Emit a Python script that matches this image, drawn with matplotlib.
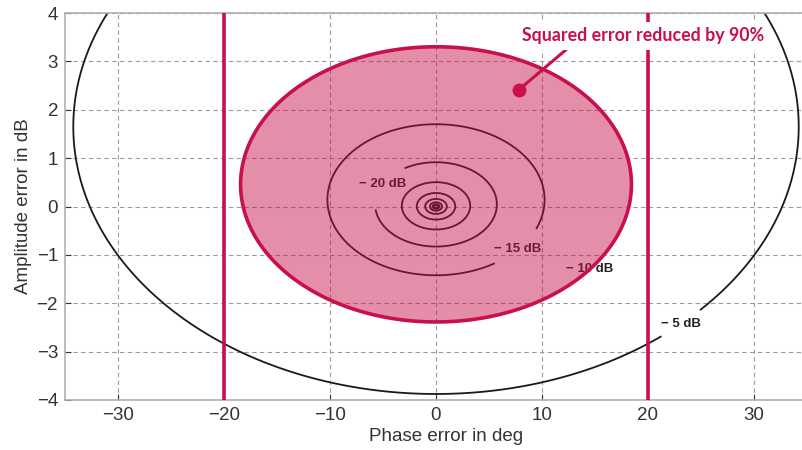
import numpy as np
import matplotlib
matplotlib.use("Agg")
import matplotlib.pyplot as plt

plt.rcParams['font.family'] = ['Liberation Sans', 'DejaVu Sans']
plt.rcParams['contour.negative_linestyle'] = 'solid'

# contour levels of the squared error (dB) seen in the picture
levels = [-50, -45, -40, -35, -30, -25, -20, -15, -10, -5]
labeled_levels = [-20, -15, -10, -5]
# where the level labels sit (phase deg, amplitude dB)
label_pos = [(-5.5, 0.55), (7.8, -0.9), (14.5, -1.3), (23.2, -2.45)]
highlight_level = -10          # 90 % reduction of the squared error
phase_limits = [-20, 20]       # vertical limit lines
dot_pos = (7.8, 2.41)
text_pos = (19.5, 3.53)
note = "Squared error reduced by 90%"

xticks = [-30, -20, -10, 0, 10, 20, 30]
yticks = [-4, -3, -2, -1, 0, 1, 2, 3, 4]

crimson = "#C8104A"

# squared error |1 - g*exp(j*phi)|^2 over the phase/amplitude plane
phi = np.linspace(-37, 38, 2501)
amp = np.linspace(-4.2, 4.2, 1401)
P, A = np.meshgrid(phi, amp)
g = 10 ** (-A / 20)
Z = 10 * np.log10(1 - 2 * g * np.cos(np.deg2rad(P)) + g ** 2 + 1e-12)

fig = plt.figure(figsize=(8.03, 4.5), dpi=100)
ax = fig.add_axes([65 / 803, 50 / 450, 763 / 803, 387 / 450])

ax.grid(True, linestyle=(0, (4, 3)), color="#9a9a9a", linewidth=0.8)
ax.set_axisbelow(True)

plain_levels = [v for v in levels if v not in labeled_levels]
ax.contour(P, A, Z, levels=plain_levels, colors="#1a1a1a", linewidths=1.3,
           linestyles="solid", zorder=2)
cs = ax.contour(P, A, Z, levels=labeled_levels, colors="#1a1a1a", linewidths=1.3,
                linestyles="solid", zorder=2)
labs = ax.clabel(cs, manual=label_pos, inline=True, inline_spacing=3, fontsize=9.5,
                 fmt=lambda v: "\u2212 %d dB" % abs(v), zorder=2)
for t in labs:
    t.set_rotation(0)
    t.set_fontweight("bold")
    t.set_color("#222222")

ax.contourf(P, A, Z, levels=[-200, highlight_level], colors=[crimson], alpha=0.47, zorder=3)
ax.contour(P, A, Z, levels=[highlight_level], colors=[crimson], linewidths=2.6,
           linestyles="solid", zorder=3.5)

for xv in phase_limits:
    ax.axvline(xv, color=crimson, linewidth=2.6, zorder=3.5)

ax.plot(*dot_pos, 'o', color=crimson, markersize=9, zorder=5)
ax.annotate(note, xy=dot_pos, xytext=text_pos, ha="center", va="center",
            fontsize=12.8, fontweight="bold", color=crimson, family=["Lato", "DejaVu Sans"],
            bbox=dict(boxstyle="square,pad=0.3", fc="white", ec="none"),
            arrowprops=dict(arrowstyle="-", color=crimson, lw=2.2, relpos=(0.21, 0.0),
                            shrinkA=0, shrinkB=0),
            zorder=6)

ax.set_xlim(-35, -35 + 763 / 10.6)
ax.set_ylim(-4, 4)
ax.set_xticks(xticks)
ax.set_yticks(yticks)
ax.set_xticklabels(["\u2212%d" % abs(v) if v < 0 else str(v) for v in xticks])
ax.set_yticklabels(["\u2212%d" % abs(v) if v < 0 else str(v) for v in yticks])
ax.tick_params(direction="in", length=4, labelsize=13.5, colors="#333333", pad=5)
for s in ax.spines.values():
    s.set_color("#b0b0b0")
    s.set_linewidth(1.2)
ax.spines["right"].set_visible(False)

ax.set_xlabel("Phase error in deg", fontsize=13.5, color="#333333", labelpad=3)
ax.set_ylabel("Amplitude error in dB", fontsize=13.5, color="#333333", labelpad=3)

fig.savefig("out.png", dpi=100)
